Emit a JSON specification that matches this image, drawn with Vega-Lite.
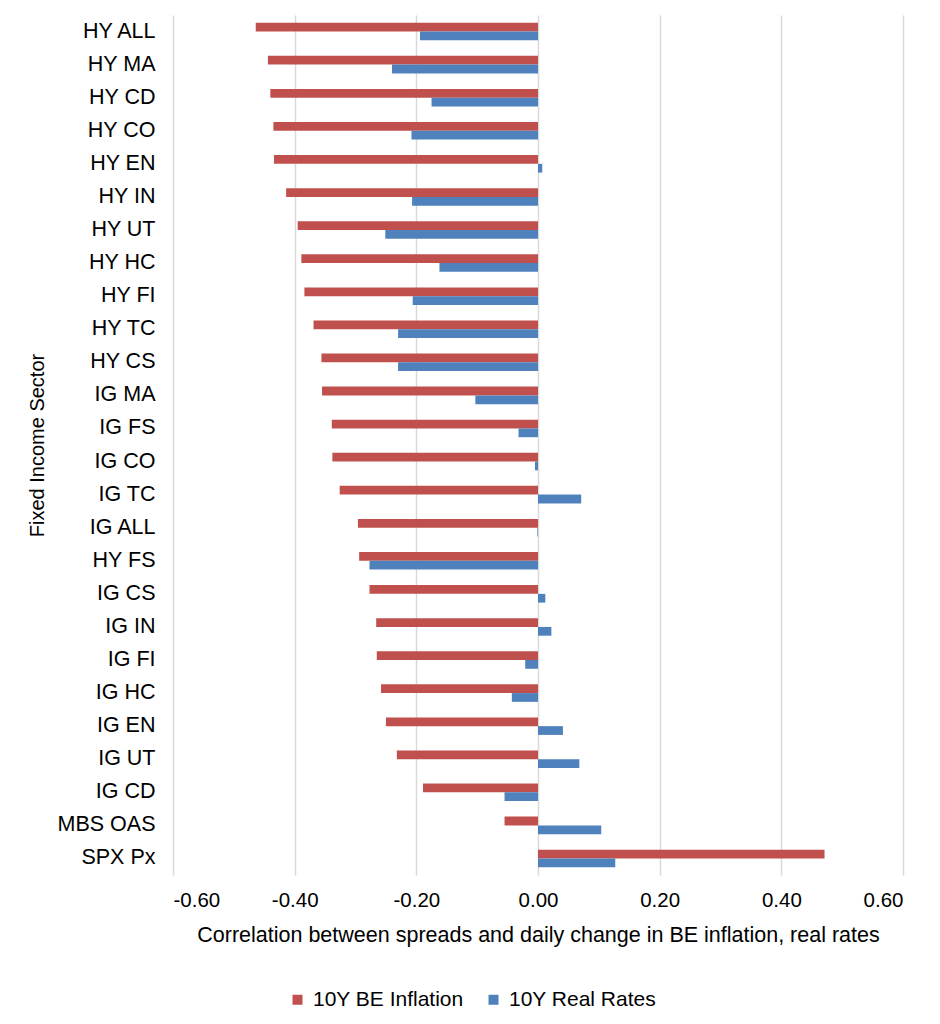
{
  "$schema": "https://vega.github.io/schema/vega-lite/v6.json",
  "autosize": {"type": "none"},
  "padding": {"left": 173, "top": 15, "right": 37, "bottom": 149},
  "width": 730,
  "height": 860,
  "background": "white",
  "config": {
    "font": "Liberation Sans",
    "view": {"stroke": null}
  },
  "data": {
    "values": [
      {"sector": "HY ALL", "series": "10Y BE Inflation", "value": -0.464},
      {"sector": "HY ALL", "series": "10Y Real Rates", "value": -0.194},
      {"sector": "HY MA", "series": "10Y BE Inflation", "value": -0.444},
      {"sector": "HY MA", "series": "10Y Real Rates", "value": -0.240},
      {"sector": "HY CD", "series": "10Y BE Inflation", "value": -0.440},
      {"sector": "HY CD", "series": "10Y Real Rates", "value": -0.175},
      {"sector": "HY CO", "series": "10Y BE Inflation", "value": -0.435},
      {"sector": "HY CO", "series": "10Y Real Rates", "value": -0.208},
      {"sector": "HY EN", "series": "10Y BE Inflation", "value": -0.434},
      {"sector": "HY EN", "series": "10Y Real Rates", "value": 0.007},
      {"sector": "HY IN", "series": "10Y BE Inflation", "value": -0.414},
      {"sector": "HY IN", "series": "10Y Real Rates", "value": -0.207},
      {"sector": "HY UT", "series": "10Y BE Inflation", "value": -0.395},
      {"sector": "HY UT", "series": "10Y Real Rates", "value": -0.251},
      {"sector": "HY HC", "series": "10Y BE Inflation", "value": -0.389},
      {"sector": "HY HC", "series": "10Y Real Rates", "value": -0.162},
      {"sector": "HY FI", "series": "10Y BE Inflation", "value": -0.384},
      {"sector": "HY FI", "series": "10Y Real Rates", "value": -0.206},
      {"sector": "HY TC", "series": "10Y BE Inflation", "value": -0.369},
      {"sector": "HY TC", "series": "10Y Real Rates", "value": -0.230},
      {"sector": "HY CS", "series": "10Y BE Inflation", "value": -0.356},
      {"sector": "HY CS", "series": "10Y Real Rates", "value": -0.230},
      {"sector": "IG MA", "series": "10Y BE Inflation", "value": -0.355},
      {"sector": "IG MA", "series": "10Y Real Rates", "value": -0.103},
      {"sector": "IG FS", "series": "10Y BE Inflation", "value": -0.339},
      {"sector": "IG FS", "series": "10Y Real Rates", "value": -0.032},
      {"sector": "IG CO", "series": "10Y BE Inflation", "value": -0.338},
      {"sector": "IG CO", "series": "10Y Real Rates", "value": -0.005},
      {"sector": "IG TC", "series": "10Y BE Inflation", "value": -0.326},
      {"sector": "IG TC", "series": "10Y Real Rates", "value": 0.071},
      {"sector": "IG ALL", "series": "10Y BE Inflation", "value": -0.296},
      {"sector": "IG ALL", "series": "10Y Real Rates", "value": -0.001},
      {"sector": "HY FS", "series": "10Y BE Inflation", "value": -0.294},
      {"sector": "HY FS", "series": "10Y Real Rates", "value": -0.277},
      {"sector": "IG CS", "series": "10Y BE Inflation", "value": -0.277},
      {"sector": "IG CS", "series": "10Y Real Rates", "value": 0.012},
      {"sector": "IG IN", "series": "10Y BE Inflation", "value": -0.266},
      {"sector": "IG IN", "series": "10Y Real Rates", "value": 0.022},
      {"sector": "IG FI", "series": "10Y BE Inflation", "value": -0.265},
      {"sector": "IG FI", "series": "10Y Real Rates", "value": -0.021},
      {"sector": "IG HC", "series": "10Y BE Inflation", "value": -0.258},
      {"sector": "IG HC", "series": "10Y Real Rates", "value": -0.043},
      {"sector": "IG EN", "series": "10Y BE Inflation", "value": -0.250},
      {"sector": "IG EN", "series": "10Y Real Rates", "value": 0.041},
      {"sector": "IG UT", "series": "10Y BE Inflation", "value": -0.232},
      {"sector": "IG UT", "series": "10Y Real Rates", "value": 0.068},
      {"sector": "IG CD", "series": "10Y BE Inflation", "value": -0.189},
      {"sector": "IG CD", "series": "10Y Real Rates", "value": -0.055},
      {"sector": "MBS OAS", "series": "10Y BE Inflation", "value": -0.055},
      {"sector": "MBS OAS", "series": "10Y Real Rates", "value": 0.104},
      {"sector": "SPX Px", "series": "10Y BE Inflation", "value": 0.471},
      {"sector": "SPX Px", "series": "10Y Real Rates", "value": 0.127}
    ]
  },
  "mark": {"type": "bar"},
  "encoding": {
    "y": {
      "field": "sector",
      "type": "nominal",
      "sort": ["HY ALL","HY MA","HY CD","HY CO","HY EN","HY IN","HY UT","HY HC","HY FI","HY TC","HY CS","IG MA","IG FS","IG CO","IG TC","IG ALL","HY FS","IG CS","IG IN","IG FI","IG HC","IG EN","IG UT","IG CD","MBS OAS","SPX Px"],
      "scale": {"paddingInner": 0.47, "paddingOuter": 0.235},
      "axis": {
        "title": "Fixed Income Sector",
        "titleFont": "Liberation Sans",
        "titleFontSize": 20,
        "titleFontWeight": "normal",
        "titleColor": "#000000",
        "titleAngle": -90,
        "titleX": -136,
        "titleY": 430,
        "titleAlign": "center",
        "titleBaseline": "middle",
        "labelFont": "Liberation Sans",
        "labelFontSize": 21.5,
        "labelColor": "#000000",
        "labelPadding": 18,
        "ticks": false,
        "domain": false,
        "grid": false
      }
    },
    "yOffset": {
      "field": "series",
      "type": "nominal",
      "scale": {"domain": ["10Y BE Inflation", "10Y Real Rates"]}
    },
    "x": {
      "field": "value",
      "type": "quantitative",
      "scale": {"domain": [-0.6, 0.6], "nice": false},
      "axis": {
        "title": "Correlation between spreads and daily change in BE inflation, real rates",
        "titleFont": "Liberation Sans",
        "titleFontSize": 21.5,
        "titleFontWeight": "normal",
        "titleColor": "#000000",
        "titleY": 60,
        "titleBaseline": "middle",
        "values": [-0.6, -0.4, -0.2, 0, 0.2, 0.4, 0.6],
        "format": ".2f",
        "labelExpr": "replace(datum.label, '\u2212', '-')",
        "labelFont": "Liberation Sans",
        "labelFontSize": 20.5,
        "labelColor": "#000000",
        "labelPadding": 15,
        "ticks": false,
        "domain": false,
        "grid": true,
        "gridColor": "#d9d9d9",
        "gridWidth": 1.5
      }
    },
    "color": {
      "field": "series",
      "type": "nominal",
      "scale": {"domain": ["10Y BE Inflation", "10Y Real Rates"], "range": ["#C0504D", "#4F81BD"]},
      "legend": {
        "title": null,
        "orient": "none",
        "direction": "horizontal",
        "legendX": 114,
        "legendY": 974,
        "symbolType": "square",
        "symbolSize": 100,
        "symbolStrokeWidth": 0,
        "labelFont": "Liberation Sans",
        "labelFontSize": 21,
        "labelColor": "#000000",
        "labelOffset": 5,
        "columnPadding": 19
      }
    }
  }
}
